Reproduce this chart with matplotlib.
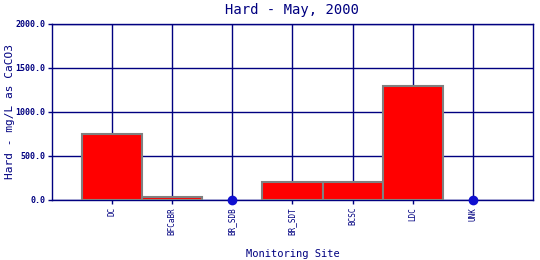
import numpy as np
import matplotlib
matplotlib.use("Agg")
import matplotlib.pyplot as plt

# Data
sites = ["DC", "BFCaBR", "BR_SDB", "BR_SDT", "BCSC", "LDC", "UNK"]
hardness = [750.0, 30.0, 0.0, 200.0, 200.0, 1300.0, 0.0]
y_ticks = [0.0, 500.0, 1000.0, 1500.0, 2000.0]

navy = "#000080"
plt.rcParams["font.family"] = ["DejaVu Sans Mono"]

fig = plt.figure(figsize=(5.4, 2.6), dpi=100)
ax = fig.add_axes([0.0963, 0.2308, 0.8907, 0.6769])

x = np.arange(1, len(sites) + 1)
vals = np.array(hardness)
nonzero = vals > 0
ax.bar(x[nonzero], vals[nonzero], width=1.0, color="#ff0000",
       edgecolor="#808080", linewidth=1.5, zorder=3)
# zero values shown as dots on the baseline
ax.plot(x[~nonzero], vals[~nonzero], "o", color="#1010d0", markersize=6,
        zorder=4, clip_on=False)

ax.set_xlim(0, len(sites) + 1)
ax.set_ylim(0, 2000)
ax.set_xticks(x)
ax.set_xticklabels(sites, rotation=90, fontsize=5.5, color=navy)
ax.set_yticks(y_ticks)
ax.set_yticklabels([f"{v:.1f}" for v in y_ticks], fontsize=6,
                   color=navy, fontweight="bold")
ax.grid(True, color=navy, linewidth=1, zorder=1)
ax.set_axisbelow(True)
for s in ax.spines.values():
    s.set_color(navy)
    s.set_linewidth(1)
ax.tick_params(colors=navy, length=3, width=1, pad=2)

ax.set_title("Hard - May, 2000", color=navy, fontsize=10, pad=7)
ax.set_ylabel("Hard - mg/L as CaCO3", color=navy, fontsize=8)
ax.yaxis.set_label_coords(-0.076, 0.5)
ax.set_xlabel("Monitoring Site", color=navy, fontsize=7.5)
ax.xaxis.set_label_coords(0.5, -0.28)

fig.savefig("out.png", dpi=100, facecolor="white")
